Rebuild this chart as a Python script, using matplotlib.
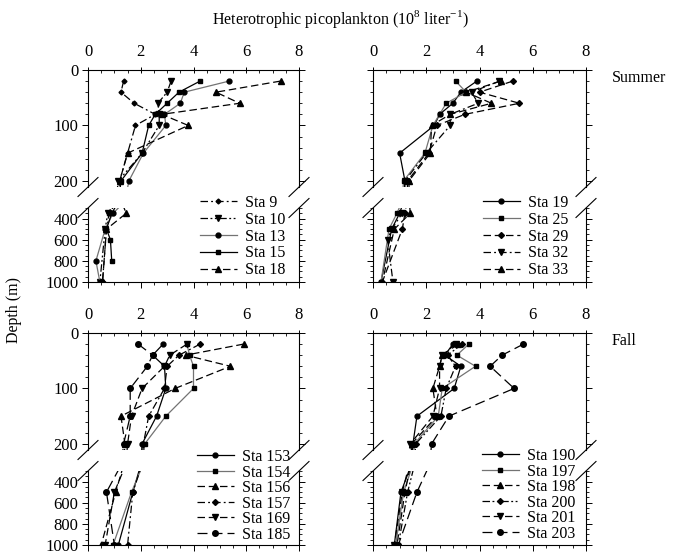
import matplotlib
matplotlib.use("Agg")
import matplotlib.pyplot as plt
from matplotlib.lines import Line2D
from matplotlib.ticker import MultipleLocator, FixedLocator

plt.rcParams['font.family'] = ['Liberation Serif', 'DejaVu Serif']
plt.rcParams['mathtext.fontset'] = 'custom'
plt.rcParams['mathtext.rm'] = 'Liberation Serif'
plt.rcParams['font.size'] = 11

# ---- data (picoplankton, 10^8 per liter) ----
summer_depth = [20, 40, 60, 80, 100, 150, 200, 350, 500, 600, 800, 1000]
fall_depth = [20, 40, 60, 100, 150, 200, 500, 1000]

summer_a_labels = ["Sta 9", "Sta 10", "Sta 13", "Sta 15", "Sta 18"]
sta9 = [1.35, 1.25, 1.75, 2.55, 1.8, 1.5, 1.2, 0.8, 0.7, None, None, 0.55]
sta10 = [3.15, 3.0, 2.65, 2.7, 2.7, 2.05, 1.15, 0.75, 0.65, None, None, 0.45]
sta13 = [5.35, 3.65, 3.5, 2.9, 2.95, 2.1, 1.55, 0.95, 0.65, None, 0.3, 0.45]
sta15 = [4.25, 3.45, 3.0, 2.55, 2.3, 2.05, 1.25, 0.9, 0.7, 0.85, 0.9, None]
sta18 = [7.3, 4.85, 5.75, 2.8, 3.8, 1.5, 1.2, 1.45, 0.7, None, None, 0.55]

summer_b_labels = ["Sta 19", "Sta 25", "Sta 29", "Sta 32", "Sta 33"]
sta19 = [3.9, 3.3, 3.0, 2.5, 2.3, 1.0, 1.2, 1.0, 0.7, None, None, 0.3]
sta25 = [3.1, 3.5, 2.75, 2.5, 2.25, 1.95, 1.15, 0.9, 0.6, None, None, 0.3]
sta29 = [5.25, 4.0, 5.5, 3.45, 2.4, 2.1, 1.3, 1.2, 1.1, None, None, 0.35]
sta32 = [4.75, 3.7, 3.95, 2.9, 2.9, 2.0, 1.2, 1.1, 0.7, 0.55, None, 0.75]
sta33 = [4.8, 3.5, 4.45, 2.9, 2.2, 2.15, 1.35, 1.4, 0.8, None, None, 0.35]

fall_a_labels = ["Sta 153", "Sta 154", "Sta 156", "Sta 157", "Sta 169", "Sta 185"]
sta153 = [2.85, 2.45, 2.9, 2.95, 2.6, 2.05, 1.7, 1.15]
sta154 = [3.75, 3.85, 4.0, 4.0, 2.95, 2.15, 1.65, 0.95]
sta156 = [5.9, 3.7, 5.4, 3.3, 1.25, 1.4, 1.05, 0.5]
sta157 = [4.25, 3.45, 3.0, 2.9, 2.3, 2.1, 1.7, 1.5]
sta169 = [3.75, 3.1, 2.9, 2.05, 1.65, 1.5, 1.0, 0.65]
sta185 = [1.9, 2.45, 2.25, 1.6, 1.6, 1.35, 0.7, 1.0]

fall_b_labels = ["Sta 190", "Sta 197", "Sta 198", "Sta 200", "Sta 201", "Sta 203"]
sta190 = [3.0, 2.7, 3.3, 3.05, 1.65, 1.5, 1.05, 0.8]
sta197 = [3.6, 3.15, 3.85, 2.6, 2.45, 1.55, 1.15, 0.85]
sta198 = [3.2, 2.6, 2.5, 2.25, 2.4, 1.45, 1.2, 0.9]
sta200 = [3.35, 2.8, 3.1, 2.75, 2.55, 1.6, 1.3, 0.95]
sta201 = [3.1, 2.6, 2.5, 2.5, 2.25, 1.4, 1.1, 0.8]
sta203 = [5.65, 4.85, 4.4, 5.3, 2.85, 2.2, 1.65, 0.95]

# ---- styles ----
SOLID = '-'
DASH = (0, (6, 3))
DASHDOT = (0, (6, 2.5, 1.5, 2.5))
DASHDOTDOT = (0, (6, 2, 1.5, 2, 1.5, 2))
LONGDASH = (0, (8, 4))

W, H = 680, 554
fig = plt.figure(figsize=(W / 100, H / 100), dpi=100)


def px_axes(left, top, right, bottom):
    return fig.add_axes([left / W, 1 - bottom / H, (right - left) / W, (bottom - top) / H])


def break_marks(ax, yfrac, wpx, hpx):
    dx, dy = 10 / wpx, 9.5 / hpx
    for x in (0, 1):
        ax.plot([x - dx, x + dx], [yfrac - dy, yfrac + dy], transform=ax.transAxes,
                color='k', lw=0.8, clip_on=False)


def panel(x0, x1, y0, depth, series, labels, styles, leg_xy, ylabels):
    up = px_axes(x0, y0, x1, y0 + 117)
    low = px_axes(x0, y0 + 138, x1, y0 + 212)
    handles = []
    for vals, lab, (ls, mk, ms, col) in zip(series, labels, styles):
        d = [z for z, v in zip(depth, vals) if v is not None]
        v = [v for v in vals if v is not None]
        for ax in (up, low):
            ax.plot(v, d, ls=ls, color=col, lw=0.9, marker=mk, ms=ms, mfc='k', mec='k')
        handles.append(Line2D([], [], ls=ls, color=col, lw=0.9, marker=mk, ms=ms,
                              mfc='k', mec='k', label=lab))

    for ax in (up, low):
        ax.set_xlim(0, 8)
        ax.xaxis.set_major_locator(MultipleLocator(2))
        ax.xaxis.set_minor_locator(MultipleLocator(0.5))
        ax.tick_params(axis='y', which='both', direction='out', left=True, right=True,
                       labelleft=ylabels, labelright=False, pad=3, labelsize=12)
        ax.tick_params(axis='y', which='major', length=4, width=0.7)
        ax.tick_params(axis='y', which='minor', length=2.5, width=0.6)
        for s in ax.spines.values():
            s.set_linewidth(0.8)

    up.set_ylim(211, 0)
    up.yaxis.set_major_locator(FixedLocator([0, 100, 200]))
    up.yaxis.set_minor_locator(MultipleLocator(20))
    up.spines['bottom'].set_visible(False)
    up.xaxis.tick_top()
    up.tick_params(axis='x', which='both', top=True, bottom=False, labeltop=True,
                   labelbottom=False, labelsize=12)
    up.tick_params(axis='x', which='major', direction='inout', length=5, width=0.7, pad=5)
    up.tick_params(axis='x', which='minor', direction='in', length=2.5, width=0.6)

    low.set_ylim(1000, 300)
    low.yaxis.set_major_locator(FixedLocator([400, 600, 800, 1000]))
    low.yaxis.set_minor_locator(MultipleLocator(50))
    low.spines['top'].set_visible(False)
    low.tick_params(axis='x', which='both', top=False, bottom=True, labelbottom=False,
                    direction='out')
    low.tick_params(axis='x', which='major', length=4, width=0.7)
    low.tick_params(axis='x', which='minor', length=2.5, width=0.6)

    break_marks(up, 0, x1 - x0, 117)
    break_marks(low, 1, x1 - x0, 74)

    fig.legend(handles=handles, loc='upper left',
               bbox_to_anchor=(leg_xy[0] / W, 1 - leg_xy[1] / H),
               frameon=False, fontsize=11.5, handlelength=2.3, handletextpad=0.5,
               labelspacing=leg_xy[2], borderpad=0, borderaxespad=0, numpoints=1)


BLK, GRY = 'k', '0.45'

panel(88, 299, 70, summer_depth, [sta9, sta10, sta13, sta15, sta18], summer_a_labels,
      [(DASHDOT, 'D', 2.5, BLK), (DASHDOTDOT, 'v', 4, BLK), (SOLID, 'o', 3.5, GRY),
       (SOLID, 's', 3.5, BLK), (DASH, '^', 4, BLK)], (200, 195, 0.05), True)

panel(373, 586, 70, summer_depth, [sta19, sta25, sta29, sta32, sta33], summer_b_labels,
      [(SOLID, 'o', 3.5, BLK), (SOLID, 's', 3.5, GRY), (DASH, 'D', 3, BLK),
       (DASHDOT, 'v', 4, BLK), (DASH, '^', 4, BLK)], (483, 195, 0.05), False)

panel(88, 299, 333, fall_depth, [sta153, sta154, sta156, sta157, sta169, sta185],
      fall_a_labels,
      [(SOLID, 'o', 3.5, BLK), (SOLID, 's', 3.5, GRY), (DASH, '^', 4, BLK),
       (DASHDOT, 'D', 3, BLK), (DASH, 'v', 4, BLK), (LONGDASH, 'o', 4, BLK)],
      (197, 449, -0.03), True)

panel(373, 586, 333, fall_depth, [sta190, sta197, sta198, sta200, sta201, sta203],
      fall_b_labels,
      [(SOLID, 'o', 3.5, BLK), (SOLID, 's', 3.5, GRY), (DASH, '^', 4, BLK),
       (DASHDOTDOT, 'D', 3, BLK), (DASH, 'v', 4, BLK), (LONGDASH, 'o', 4, BLK)],
      (482, 448, -0.03), False)

fig.text(340 / W, 1 - 19 / H, r'Heterotrophic picoplankton (10$^{8}$ liter$^{-1}$)',
         ha='center', va='center', fontsize=11.5)
fig.text(14 / W, 1 - 310 / H, 'Depth (m)', rotation=90, ha='center', va='center',
         fontsize=11.5)
fig.text(612 / W, 1 - 78 / H, 'Summer', ha='left', va='center', fontsize=11.5)
fig.text(612 / W, 1 - 341 / H, 'Fall', ha='left', va='center', fontsize=11.5)

fig.savefig('out.png', dpi=100)
